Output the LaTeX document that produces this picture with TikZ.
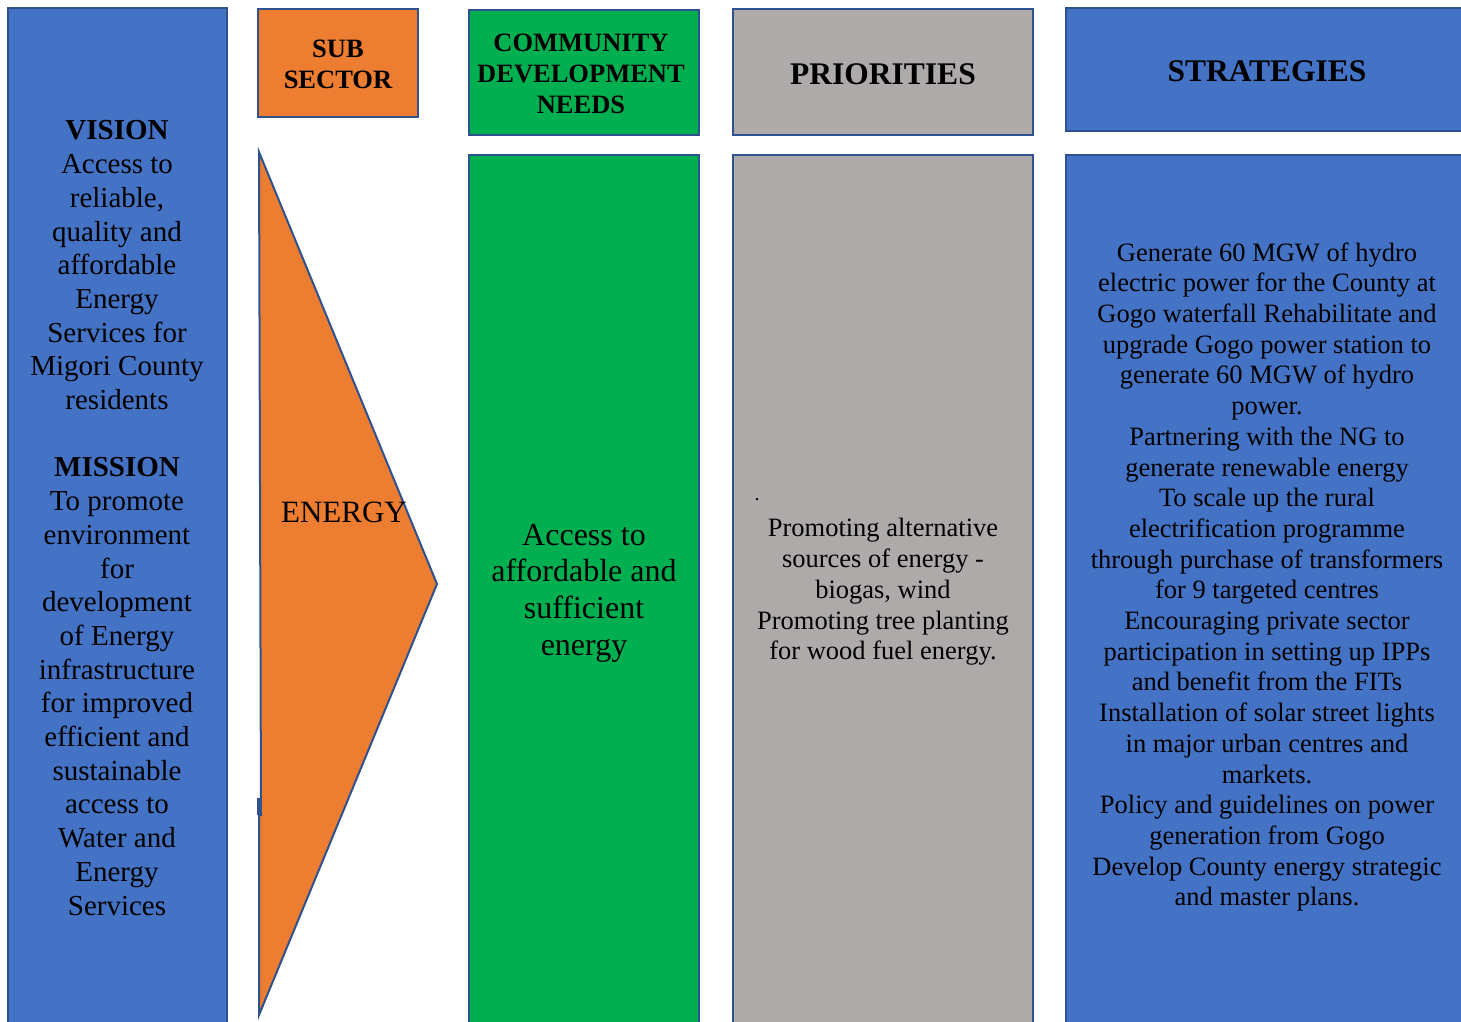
\documentclass[tikz,border=0pt]{standalone}
\usepackage{fontspec}
\setmainfont{Liberation Serif}
\definecolor{colblue}{HTML}{4472C4}
\definecolor{colorange}{HTML}{ED7D31}
\definecolor{colgreen}{HTML}{00B050}
\definecolor{colgrey}{HTML}{AEAAAA}
\definecolor{edgeblue}{HTML}{2F528F}
\begin{document}
\begin{tikzpicture}[y=1pt, x=1pt, yscale=-1, inner sep=0pt, outer sep=0pt,
  panel/.style={draw=edgeblue, line width=2pt},
  head/.style={align=center, font=\fontsize{26.5}{31}\selectfont\bfseries},
  bigHead/.style={align=center, font=\fontsize{31.5}{36}\selectfont\bfseries},
  body/.style={align=center, font=\fontsize{26.5}{30.7}\selectfont}]
\useasboundingbox (0,0) rectangle (1461,1021);
\clip (0,0) rectangle (1461,1021);
% vision / mission column
\path[panel, fill=colblue] (8,8) rectangle (227,1040);
% headers
\path[panel, fill=colorange] (258,9) rectangle (418,117);
\path[panel, fill=colgreen] (469,10) rectangle (699,135);
\path[panel, fill=colgrey] (733,9) rectangle (1033,135);
\path[panel, fill=colblue] (1066,8) rectangle (1480,131);
% bodies
\path[panel, fill=colgreen] (469,155) rectangle (699,1040);
\path[panel, fill=colgrey] (733,155) rectangle (1033,1040);
\path[panel, fill=colblue] (1066,155) rectangle (1480,1040);
% energy arrow
\path[panel, fill=colorange, line join=miter] (259,152) -- (437,584) --
  (259,1015) -- (259,815) -- (261,815) -- cycle;
\path[draw=edgeblue, line width=3pt] (258,798) -- (258,815);

\node[body, font=\fontsize{29}{33.7}\selectfont] (vision) at (117,518)
  {\textbf{VISION}\\Access to\\reliable,\\quality and\\affordable\\Energy\\Services for\\Migori County\\residents\\[33.7pt]
   \textbf{MISSION}\\To promote\\environment\\for\\development\\of Energy\\infrastructure\\for improved\\efficient and\\sustainable\\access to\\Water and\\Energy\\Services};

\node[head] (subsector) at (338,64) {SUB\\SECTOR};
\node[head] (needs) at (581,74) {COMMUNITY\\DEVELOPMENT\\NEEDS};
\node[bigHead] (priorities) at (883,74) {PRIORITIES};
\node[bigHead] (strategies) at (1267,71) {STRATEGIES};

\node[font=\fontsize{31}{36}\selectfont] (energy) at (344,512) {ENERGY};
\node[body, font=\fontsize{32}{36.7}\selectfont] (needsText) at (584,593)
  {Access to\\affordable and\\sufficient\\energy};
\node[font=\fontsize{20}{24}\selectfont] (prioDot) at (757,500) {.};
\node[body] (prioText) at (883,592)
  {Promoting alternative\\sources of energy -\\biogas, wind\\Promoting tree planting\\for wood fuel energy.};
\node[body] (stratText) at (1267,577)
  {Generate 60 MGW of hydro\\electric power for the County at\\Gogo waterfall Rehabilitate and\\upgrade Gogo power station to\\generate 60 MGW of hydro\\power.\\
   Partnering with the NG to\\generate renewable energy\\To scale up the rural\\electrification programme\\through purchase of transformers\\for 9 targeted centres\\
   Encouraging private sector\\participation in setting up IPPs\\and benefit from the FITs\\Installation of solar street lights\\in major urban centres and\\markets.\\
   Policy and guidelines on power\\generation from Gogo\\Develop County energy strategic\\and master plans.};
\end{tikzpicture}
\end{document}
